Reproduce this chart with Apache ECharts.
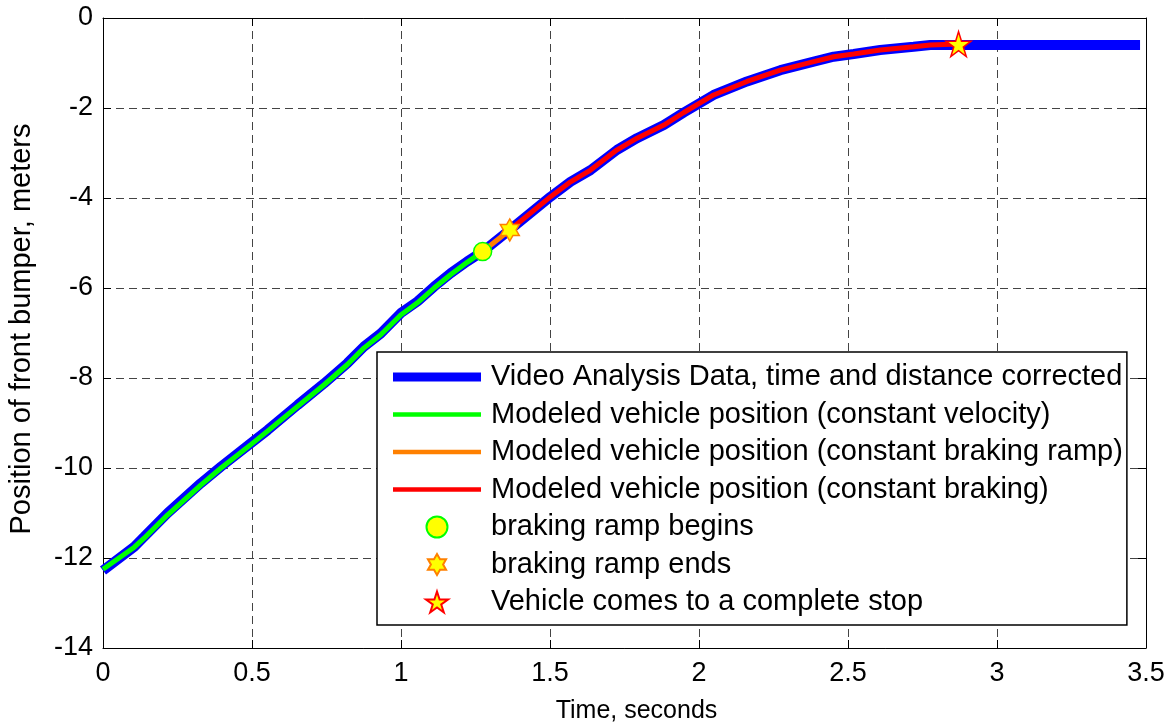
<!DOCTYPE html>
<html>
<head>
<meta charset="utf-8">
<script src="https://cdn.jsdelivr.net/npm/echarts@6/dist/echarts.min.js"></script>
<style>
  html, body { margin: 0; padding: 0; background: #fff; }
  #main { width: 1174px; height: 728px; }
</style>
</head>
<body>
<div id="main"></div>
<script>
// video analysis data (time s, position m)
var videoT = [0, 0.105, 0.138, 0.217, 0.328, 0.396, 0.496, 0.552, 0.653, 0.742, 0.82, 0.876, 0.932, 0.999, 1.055, 1.111, 1.167, 1.222, 1.274, 1.365, 1.502, 1.569, 1.636, 1.725, 1.792, 1.882, 1.949, 2.049, 2.161, 2.273, 2.385, 2.452, 2.519, 2.608, 2.72, 2.776, 2.871, 3.48];
var videoX = [-12.28, -11.75, -11.53, -11.0, -10.34, -9.97, -9.45, -9.16, -8.6, -8.12, -7.67, -7.30, -7.01, -6.56, -6.30, -5.97, -5.67, -5.41, -5.19, -4.71, -3.97, -3.64, -3.38, -2.93, -2.67, -2.38, -2.10, -1.71, -1.41, -1.16, -0.97, -0.86, -0.80, -0.71, -0.64, -0.60, -0.60, -0.60];

// modeled segments
var velT = [0, 0.105, 0.138, 0.217, 0.328, 0.396, 0.496, 0.552, 0.653, 0.742, 0.82, 0.876, 0.932, 0.999, 1.055, 1.111, 1.167, 1.222, 1.274];
var velX = [-12.25, -11.76, -11.56, -11.04, -10.38, -10.0, -9.48, -9.18, -8.63, -8.15, -7.70, -7.33, -7.04, -6.60, -6.33, -6.0, -5.70, -5.43, -5.19];
var rampT = [1.274, 1.365];
var rampX = [-5.19, -4.71];
var brakeT = [1.365, 1.502, 1.569, 1.636, 1.725, 1.792, 1.882, 1.949, 2.049, 2.161, 2.273, 2.385, 2.452, 2.519, 2.608, 2.72, 2.776, 2.871];
var brakeX = [-4.71, -3.97, -3.64, -3.38, -2.93, -2.67, -2.38, -2.10, -1.71, -1.41, -1.16, -0.97, -0.86, -0.80, -0.71, -0.64, -0.60, -0.58];

// event markers
var rampBegin = [1.274, -5.19];
var rampEnd = [1.365, -4.71];
var fullStop = [2.871, -0.58];

var names = [
  'Video Analysis Data, time and distance corrected',
  'Modeled vehicle position (constant velocity)',
  'Modeled vehicle position (constant braking ramp)',
  'Modeled vehicle position (constant braking)',
  'braking ramp begins',
  'braking ramp ends',
  'Vehicle comes to a complete stop'
];

var hexagram = 'path://M50 0 L64.4 25 L93.3 25 L78.9 50 L93.3 75 L64.4 75 L50 100 L35.6 75 L6.7 75 L21.1 50 L6.7 25 L35.6 25 Z';
var pentagram = 'path://M50 0 L61.2 34.5 L97.6 34.5 L68.2 55.9 L79.4 90.5 L50 69.1 L20.6 90.5 L31.8 55.9 L2.4 34.5 L38.8 34.5 Z';
// legend swatches: flat bars, thick for the video data, thinner for the models
var thickBar = 'path://M0 0 L88 0 L88 9 L0 9 Z';
var thinBar = 'path://M0 0 L88 0 L88 4.5 L0 4.5 Z';

function zip(a, b) {
  return a.map(function (v, i) { return [v, b[i]]; });
}

var font = 'Liberation Sans, Arial, sans-serif';
var chart = echarts.init(document.getElementById('main'));

var boxAxis = {
  axisLine: { show: true, onZero: false, lineStyle: { color: '#000', width: 1 } },
  axisTick: { show: true, inside: true, length: 8, lineStyle: { color: '#000' } },
  axisLabel: { show: false },
  splitLine: { show: false }
};

var option = {
  backgroundColor: '#fff',
  animation: false,
  textStyle: { fontFamily: font, color: '#000' },
  grid: { left: 103, right: 28, top: 18, bottom: 80, containLabel: false, outerBoundsMode: 'none' },
  xAxis: [{
    type: 'value', min: 0, max: 3.5, interval: 0.5,
    name: 'Time, seconds', nameLocation: 'middle', nameGap: 51,
    nameTextStyle: { fontSize: 25, color: '#000', fontFamily: font, padding: [0, 0, 0, 24] },
    axisLine: { show: true, onZero: false, lineStyle: { color: '#000' } },
    axisTick: { inside: true, length: 8, lineStyle: { color: '#000' } },
    axisLabel: { fontSize: 27, color: '#000', margin: 12, fontFamily: font },
    splitLine: { show: true, lineStyle: { color: '#444', type: [8, 5], width: 1 } }
  }, Object.assign({ type: 'value', min: 0, max: 3.5, interval: 0.5, position: 'top' }, boxAxis)],
  yAxis: [{
    type: 'value', min: -14, max: 0, interval: 2,
    name: 'Position of front bumper, meters', nameLocation: 'middle', nameGap: 67,
    nameTextStyle: { fontSize: 29, color: '#000', fontFamily: font, padding: [0, 0, 0, 8] },
    axisLine: { show: true, onZero: false, lineStyle: { color: '#000' } },
    axisTick: { inside: true, length: 8, lineStyle: { color: '#000' } },
    axisLabel: { fontSize: 27, color: '#000', margin: 10, fontFamily: font },
    splitLine: { show: true, lineStyle: { color: '#444', type: [8, 5], width: 1 } }
  }, Object.assign({ type: 'value', min: -14, max: 0, interval: 2, position: 'right' }, boxAxis)],
  legend: {
    orient: 'vertical',
    left: 377, top: 352,
    padding: [10, 4, 8, 16],
    backgroundColor: '#fff',
    borderColor: '#000', borderWidth: 1.5, borderRadius: 0,
    itemWidth: 88, itemHeight: 21, itemGap: 7.5,
    textStyle: { fontSize: 29, color: '#000', fontFamily: font, lineHeight: 30, padding: [0, 0, 0, 5] },
    data: [
      { name: names[0], icon: thickBar },
      { name: names[1], icon: thinBar },
      { name: names[2], icon: thinBar },
      { name: names[3], icon: thinBar },
      { name: names[4] },
      { name: names[5] },
      { name: names[6] }
    ]
  },
  series: [
    { name: names[0], type: 'line', data: zip(videoT, videoX), symbol: 'none', z: 2,
      lineStyle: { color: '#0000ff', width: 10 }, itemStyle: { color: '#0000ff' } },
    { name: names[1], type: 'line', data: zip(velT, velX), symbol: 'none', z: 3,
      lineStyle: { color: '#00ff00', width: 5 }, itemStyle: { color: '#00ff00' } },
    { name: names[2], type: 'line', data: zip(rampT, rampX), symbol: 'none', z: 3,
      lineStyle: { color: '#ff8000', width: 5 }, itemStyle: { color: '#ff8000' } },
    { name: names[3], type: 'line', data: zip(brakeT, brakeX), symbol: 'none', z: 3,
      lineStyle: { color: '#ff0000', width: 5 }, itemStyle: { color: '#ff0000' } },
    { name: names[4], type: 'scatter', data: [rampBegin], symbol: 'circle', symbolSize: 18, z: 5,
      itemStyle: { color: '#ffff00', borderColor: '#00ff00', borderWidth: 1.5, opacity: 1 } },
    { name: names[5], type: 'scatter', data: [rampEnd], symbol: hexagram, symbolSize: [19, 22], z: 5,
      itemStyle: { color: '#ffff00', borderColor: '#ff8000', borderWidth: 1.5, opacity: 1 } },
    { name: names[6], type: 'scatter', data: [fullStop], symbol: pentagram, symbolSize: 25, z: 5,
      itemStyle: { color: '#ffff00', borderColor: '#ff0000', borderWidth: 1.5, opacity: 1 } }
  ]
};

chart.setOption(option);
</script>
</body>
</html>
